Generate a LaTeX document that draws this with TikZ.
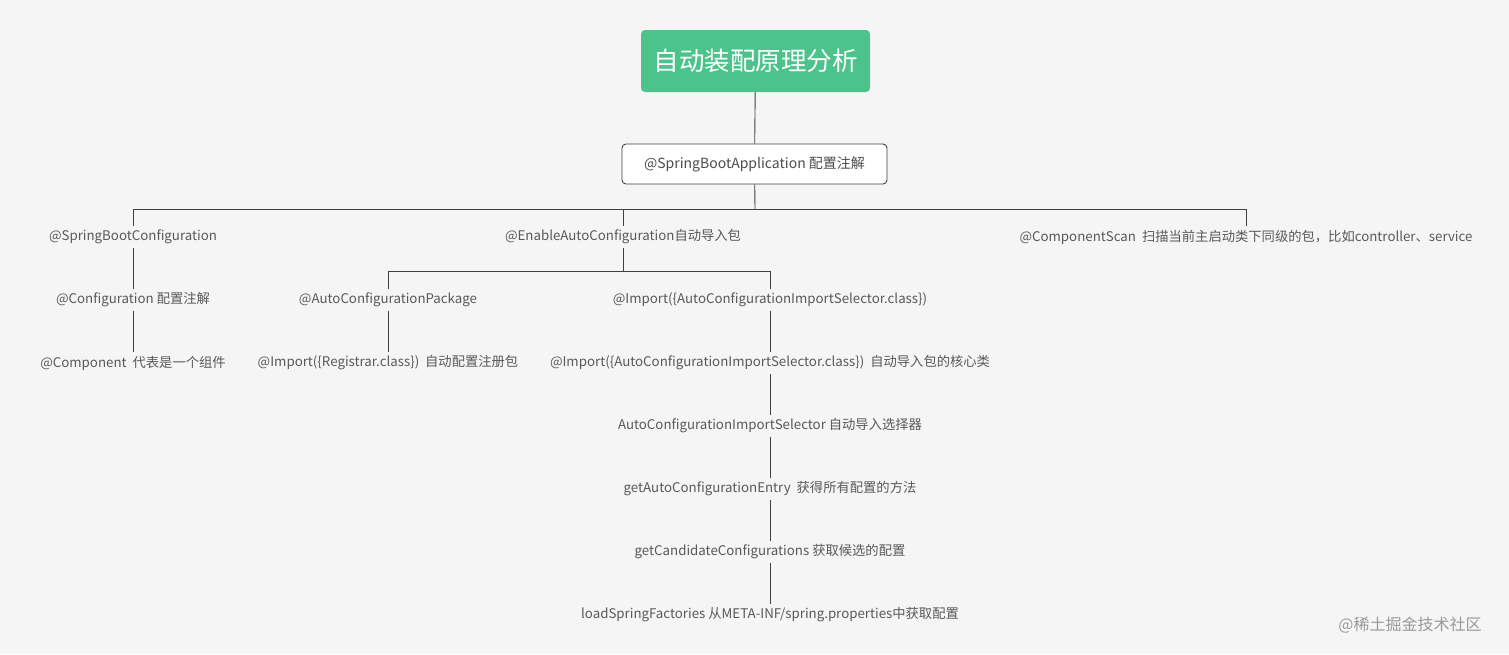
\documentclass[tikz,border=0pt]{standalone}
\usepackage{fontspec}
\setmainfont{Noto Sans CJK SC}
\begin{document}
\begin{tikzpicture}[x=1pt,y=-1pt,
  lbl/.style={font=\fontsize{13.3}{15}\selectfont, text=black!65, inner sep=0pt, minimum height=22pt},
  ln/.style={draw=black!75, line width=0.9pt}]
\fill[black!4] (0,0) rectangle (1509,654);
\useasboundingbox (0,0) rectangle (1509,654);
\node[fill={rgb,255:red,76;green,195;blue,138}, rounded corners=4pt, minimum width=229pt, minimum height=62pt, text=white, font=\fontsize{25.5}{28}\selectfont] (title) at (755.5,61) {自动装配原理分析};
\node[draw=black!75, fill=white, rounded corners=4pt, minimum width=265pt, minimum height=40pt, line width=0.9pt, font=\fontsize{14}{16}\selectfont, text=black!70] (app) at (754.5,164) {@SpringBootApplication 配置注解};
\draw[ln] (title) -- (app);
\node[lbl] (sbc) at (133,237) {@SpringBootConfiguration};
\node[lbl] (eac) at (623,237) {@EnableAutoConfiguration自动导入包};
\node[lbl] (cs) at (1246,237) {@ComponentScan\ \ 扫描当前主启动类下同级的包，比如controller、service};
\coordinate (bus) at (755,209);
\draw[ln] (app) -- (bus);
\draw[ln] (sbc.north) -- (133,209) -- (1246,209) -- (cs.north);
\draw[ln] (eac.north) -- (623,209);
\node[lbl] (conf) at (133,300) {@Configuration 配置注解};
\node[lbl] (comp) at (133,363) {@Component\ \ 代表是一个组件};
\draw[ln] (sbc) -- (conf);
\draw[ln] (conf) -- (comp);
\node[lbl] (acp) at (388,300) {@AutoConfigurationPackage};
\node[lbl] (imp) at (770,300) {@Import(\{AutoConfigurationImportSelector.class\})};
\draw[ln] (eac.south) -- (623,271);
\draw[ln] (acp.north) -- (388,271) -- (770,271) -- (imp.north);
\node[lbl] (reg) at (388,363) {@Import(\{Registrar.class\})\ \ 自动配置注册包};
\draw[ln] (acp) -- (reg);
\node[lbl] (imp2) at (770,363) {@Import(\{AutoConfigurationImportSelector.class\})\ \ 自动导入包的核心类};
\node[lbl] (sel) at (770,426) {AutoConfigurationImportSelector 自动导入选择器};
\node[lbl] (gace) at (770,489) {getAutoConfigurationEntry\ \ 获得所有配置的方法};
\node[lbl] (gcc) at (770,552) {getCandidateConfigurations 获取候选的配置};
\node[lbl] (lsf) at (770,615) {loadSpringFactories 从META-INF/spring.properties中获取配置};
\draw[ln] (imp) -- (imp2);
\draw[ln] (imp2) -- (sel);
\draw[ln] (sel) -- (gace);
\draw[ln] (gace) -- (gcc);
\draw[ln] (gcc) -- (lsf);
\node[font=\fontsize{16}{18}\selectfont, text=black!40, inner sep=0pt] (wm) at (1410,625) {@稀土掘金技术社区};
\end{tikzpicture}
\end{document}
